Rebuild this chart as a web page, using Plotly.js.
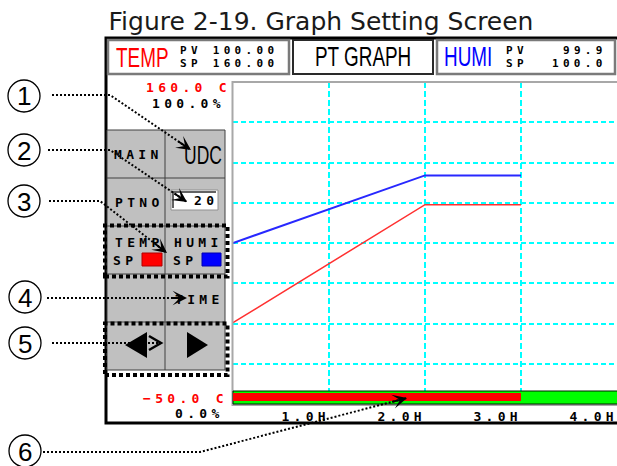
<!DOCTYPE html>
<html>
<head>
<meta charset="utf-8">
<script src="https://cdn.plot.ly/plotly-3.0.1.min.js"></script>
<style>
html, body { margin: 0; padding: 0; background: #fff; }
#chart { width: 617px; height: 466px; }
/* LCD-style device font: wide letter spacing like the panel's pixel font */
text[style*="DejaVu Sans Mono"] { letter-spacing: 4.3px; }
text[style*="Mono, mono"] { letter-spacing: 5.6px; }
/* condensed tall device font */
text[style*="Arial Narrow"] { transform: scaleX(0.7); transform-box: fill-box; transform-origin: 50% 50%; }
</style>
</head>
<body>
<div id="chart"></div>
<script>
// ---------------- data ----------------
const timeHours = [0, 2, 3];            // pattern segment times (h)
const tempSP = [3, 80, 80];             // TEMP set point (°C)
const humiSP = [50, 71, 71];            // HUMI set point (%)
const xTickVals = [1, 2, 3, 4];
const xTickText = ['1.0H', '2.0H', '3.0H', '4.0H'];
const tempRange = [-50, 160];           // °C axis
const humiRange = [0, 100];             // % axis
const gridDivisions = 8;
const headerRows = ['PV', 'SP'];
const tempHeader = [100.00, 160.00];
const humiHeader = [99.9, 100.0];
const patternNo = 20;
const callouts = ['1', '2', '3', '4', '5', '6'];
const titleText = 'Figure 2-19. Graph Setting Screen';

// ---------------- geometry helpers (pixel -> paper) ----------------
const L = 233, R = 617, T = 82, B = 404;
const W = R - L, H = B - T;
const X = px => (px - L) / W;
const Y = py => (B - py) / H;

const LCD = 'DejaVu Sans Mono';
const LCDW = 'DejaVu Sans Mono, monospace';
const NARROW = 'Liberation Sans, Arial Narrow';

const shapes = [];
const annotations = [];

function rect(x0, y0, x1, y1, line, fill) {
  shapes.push({type: 'rect', xref: 'paper', yref: 'paper', layer: 'above',
    x0: X(x0), x1: X(x1), y0: Y(y1), y1: Y(y0),
    line: line || {width: 0}, fillcolor: fill || 'rgba(0,0,0,0)'});
}
function circle(cx, cy, r, line) {
  shapes.push({type: 'circle', xref: 'paper', yref: 'paper', layer: 'above',
    x0: X(cx - r), x1: X(cx + r), y0: Y(cy + r), y1: Y(cy - r), line: line});
}
function poly(pts, line, fill, closed) {
  const d = pts.map((p, i) => (i ? 'L' : 'M') + X(p[0]) + ',' + Y(p[1])).join('') + (closed ? 'Z' : '');
  shapes.push({type: 'path', xref: 'paper', yref: 'paper', layer: 'above', path: d,
    line: line || {width: 0}, fillcolor: fill || 'rgba(0,0,0,0)'});
}
function label(text, cx, cy, family, size, color, weight) {
  annotations.push({xref: 'paper', yref: 'paper', x: X(cx), y: Y(cy), text: text,
    showarrow: false, xanchor: 'center', yanchor: 'middle', borderpad: 0,
    font: {family: family, size: size, color: color || '#000', weight: weight || 'normal'}});
}
function arrowHead(tx, ty, fx, fy) {
  const dx = tx - fx, dy = ty - fy, len = Math.hypot(dx, dy);
  annotations.push({xref: 'paper', yref: 'paper', x: X(tx), y: Y(ty), text: '',
    showarrow: true, arrowhead: 3, arrowsize: 1.2, arrowwidth: 2, arrowcolor: '#000',
    standoff: 0, ax: -dx / len * 17, ay: -dy / len * 17});
}

// ---------------- device screen decoration ----------------
rect(106, 38, 680, 423, {color: '#000', width: 3});
rect(108, 40, 289, 74, {color: '#7a7a7a', width: 2.5});
rect(293, 40, 433, 74, {color: '#2a2a2a', width: 2});
rect(437, 40, 615, 74, {color: '#7a7a7a', width: 2.5});
rect(232.5, 82, 680, 405, {color: '#a8a8a8', width: 2});

// button panel
rect(107, 130, 225, 370, {color: '#404040', width: 1}, '#C0C0C0');
[178, 226, 274, 322].forEach(y => poly([[107, y], [225, y]], {color: '#404040', width: 1}));
poly([[165, 130], [165, 370]], {color: '#404040', width: 1});
rect(171, 190, 218, 210, {color: '#909090', width: 1}, '#ffffff');
poly([[173, 208], [173, 192], [216, 192]], {color: '#303030', width: 1.5});
rect(142, 253, 162, 266, {color: '#b00000', width: 1}, '#FF0000');
rect(202, 253, 221, 266, {color: '#0000b0', width: 1}, '#0000FF');
poly([[125, 345], [147, 332], [147, 358]], {width: 0}, '#000', true);
poly([[208, 345], [187, 332], [187, 358]], {width: 0}, '#000', true);
rect(105, 225.5, 227.5, 276.5, {color: '#000', width: 4, dash: '4px,3px'});
rect(105, 323.5, 227.5, 375, {color: '#000', width: 4, dash: '4px,3px'});

// status bar: green track + red programmed span (0 .. last segment time)
shapes.push({type: 'rect', xref: 'paper', yref: 'paper', layer: 'above',
  x0: 0, x1: 1.1, y0: Y(404), y1: Y(391), fillcolor: '#00FF00', line: {color: '#002000', width: 1}});
shapes.push({type: 'rect', xref: 'x', yref: 'paper', layer: 'above',
  x0: timeHours[0], x1: timeHours[timeHours.length - 1], y0: Y(401), y1: Y(393),
  fillcolor: '#FF0000', line: {width: 0}});

// callout circles and dotted leader lines
const calloutPos = [[24, 96], [24, 150], [24, 201], [25, 297], [25, 343], [25, 451]];
calloutPos.forEach(p => circle(p[0], p[1], 16, {color: '#000', width: 1.3}));
const dotted = {color: '#000', width: 2, dash: '2px,2px'};
poly([[52, 95], [110, 95], [191, 150]], dotted);
poly([[48, 150], [110, 150], [187, 202]], dotted);
poly([[49, 201], [100, 201], [167, 253]], dotted);
poly([[47, 298], [187, 298]], dotted);
poly([[52, 343], [160, 343]], dotted);
poly([[43, 452], [200, 452], [407, 398]], dotted);
poly([[149, 336], [161, 343], [149, 350]], {color: '#000', width: 2.5});

// ---------------- texts ----------------
label('TEMP', 142, 58, NARROW, 27, '#FF0000');
headerRows.forEach((r, i) => label(r + ' ' + tempHeader[i].toFixed(2), 229, 50 + i * 13, LCDW, 11, '#000', 'bold'));
label('PT GRAPH', 363, 57, NARROW, 27, '#000');
label('HUMI', 468, 57, NARROW, 27, '#0000FF');
headerRows.forEach((r, i) => {
  label(r, 517, 50 + i * 13, LCDW, 11, '#000', 'bold');
  label(humiHeader[i].toFixed(1), 585 - (i ? 6 : 0), 50 + i * 13, LCDW, 11, '#000', 'bold');
});

function axLabel(text, cx, yref, yval, shift, color) {
  annotations.push({xref: 'paper', yref: yref, x: X(cx), y: yval, yshift: shift, text: text,
    showarrow: false, xanchor: 'center', yanchor: 'middle', borderpad: 0,
    font: {family: LCD, size: 13, color: color, weight: 'bold'}});
}
axLabel(tempRange[1].toFixed(1) + ' C', 188, 'y', tempRange[1], -5, '#FF0000');
axLabel(humiRange[1].toFixed(1) + '%', 188, 'y2', humiRange[1], -21, '#000');
axLabel('\u2212' + Math.abs(tempRange[0]).toFixed(1) + ' C', 185, 'y', tempRange[0], 6, '#FF0000');
axLabel(humiRange[0].toFixed(1) + '%', 199, 'y2', humiRange[0], -9, '#000');

label('MAIN', 138, 154, LCD, 13, '#000', 'bold');
label('UDC', 203, 155, NARROW, 25, '#000');
label('PTNO', 139, 202, LCD, 13, '#000', 'bold');
label(String(patternNo), 206, 200, LCD, 13, '#000', 'bold');
label('TEMP', 139, 242, LCD, 13, '#000', 'bold');
label('SP', 125, 260, LCD, 13, '#000', 'bold');
label('HUMI', 198, 242, LCD, 13, '#000', 'bold');
label('SP', 185, 260, LCD, 13, '#000', 'bold');
label('TIME', 199, 299, LCD, 13, '#000', 'bold');

callouts.forEach((c, i) => label(c, calloutPos[i][0], calloutPos[i][1] + 0.5, 'Liberation Sans', 26, '#000'));

arrowHead(191, 150, 110, 95);
arrowHead(187, 202, 110, 150);
arrowHead(167, 253, 100, 201);
arrowHead(187, 298, 47, 298);
arrowHead(407, 398, 200, 452);

// ---------------- traces ----------------
const traces = [
  {x: timeHours, y: tempSP, type: 'scatter', mode: 'lines', yaxis: 'y',
   line: {color: '#FF3030', width: 1.5}, hoverinfo: 'skip', name: 'TEMP SP'},
  {x: timeHours, y: humiSP, type: 'scatter', mode: 'lines', yaxis: 'y2',
   line: {color: '#2828FF', width: 2}, hoverinfo: 'skip', name: 'HUMI SP'}
];

const layout = {
  width: 617, height: 466,
  margin: {l: L, r: 617 - R, t: T, b: 466 - B, pad: 0},
  paper_bgcolor: '#ffffff', plot_bgcolor: '#ffffff',
  showlegend: false,
  title: {text: titleText, xref: 'container', yref: 'container',
          x: 321 / 617, xanchor: 'center', y: 1 - 21 / 466, yanchor: 'middle',
          font: {family: 'DejaVu Sans', size: 25, color: '#1a1a1a'}},
  xaxis: {range: [0, 4], tickmode: 'array', tickvals: xTickVals, ticktext: xTickText,
          showgrid: true, gridcolor: '#00FFFF', gridwidth: 2, griddash: '6px,3px',
          zeroline: false, showline: false, ticks: '', ticklabelposition: 'outside left',
          ticklabelshift: 1, ticklabelstandoff: 3, ticklabeloverflow: 'allow',
          tickfont: {family: LCD, size: 13, color: '#000', weight: 'bold'}, fixedrange: true},
  yaxis: {range: tempRange, tickmode: 'linear', tick0: tempRange[0],
          dtick: (tempRange[1] - tempRange[0]) / gridDivisions,
          showgrid: true, gridcolor: '#00FFFF', gridwidth: 2, griddash: '5px,3px',
          zeroline: false, showline: false, showticklabels: false, ticks: '', fixedrange: true},
  yaxis2: {range: humiRange, overlaying: 'y', side: 'left', showgrid: false, zeroline: false,
           showline: false, showticklabels: false, ticks: '', fixedrange: true},
  shapes: shapes,
  annotations: annotations
};

Plotly.newPlot('chart', traces, layout, {displayModeBar: false, staticPlot: true});
</script>
</body>
</html>
